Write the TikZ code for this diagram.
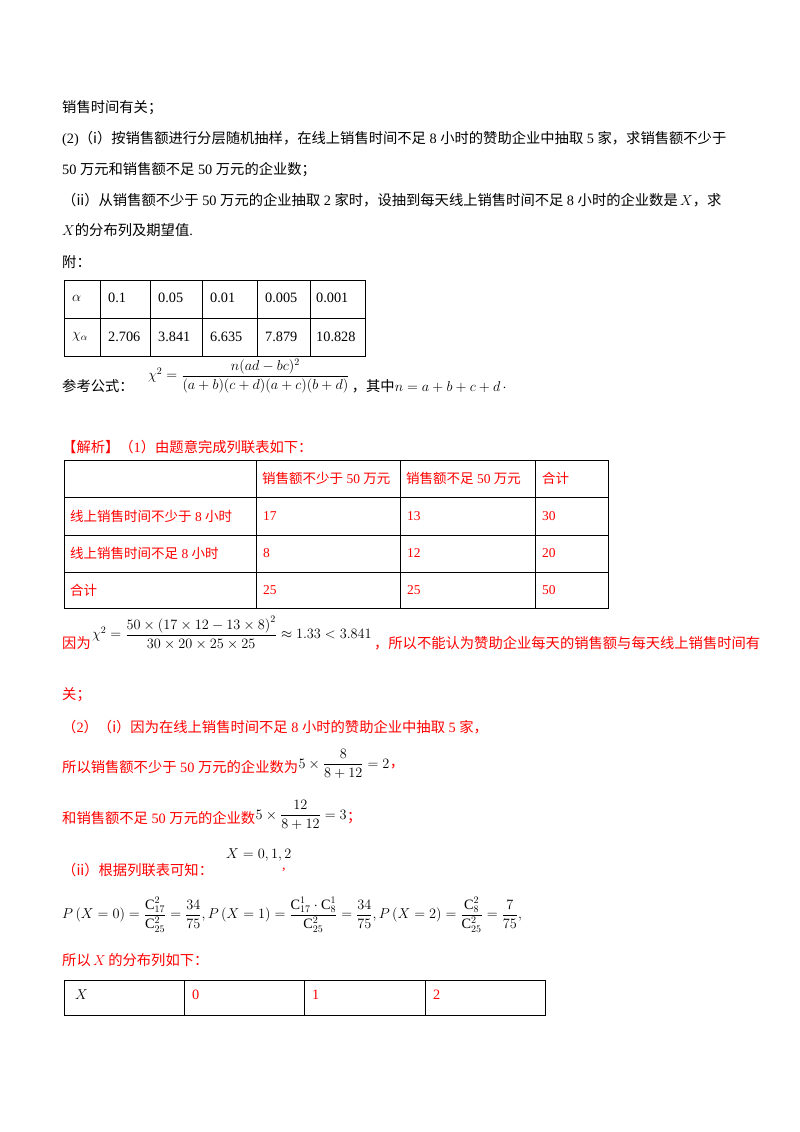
\RequirePackage{fix-cm}
\documentclass[tikz,border=0pt]{standalone}
\usepackage{amsmath}
\usepackage{fontspec}
\setmainfont{Liberation Serif}
\newfontfamily\cjk{Noto Sans CJK SC}
\newcommand{\zh}[1]{{\cjk #1}}
\begin{document}
\begin{tikzpicture}[x=1pt,y=-1pt,
  txt/.style={anchor=west,inner sep=0pt,font=\fontsize{14.3}{17}\selectfont},
  rtxt/.style={txt,text=red},
  ctxt/.style={rtxt,font=\fontsize{13.5}{16}\selectfont},
  grid/.style={line width=0.9pt}]
\useasboundingbox (0,0) rectangle (800,1132);
\fill[white] (0,0) rectangle (800,1132);
\node[txt] (l1) at (62,108) {\zh{销售时间有关；}};
\node[txt] (l2) at (62,139) {(2)\zh{（i）按销售额进行分层随机抽样，在线上销售时间不足} 8 \zh{小时的赞助企业中抽取} 5 \zh{家，求销售额不少于}};
\node[txt] (l3) at (62,170) {50 \zh{万元和销售额不足} 50 \zh{万元的企业数；}};
\node[txt] (l4) at (62,200) {\zh{（ii）从销售额不少于} 50 \zh{万元的企业抽取} 2 \zh{家时，设抽到每天线上销售时间不足} 8 \zh{小时的企业数是}$\,X$\zh{，求}};
\node[txt] (l5) at (62,230) {$X$\zh{的分布列及期望值}.};
\node[txt] (l6) at (62,262) {\zh{附：}};
% table 1
\draw[grid] (64,280) rectangle (365,356);
\draw[grid] (64,318) -- (365,318);
\foreach \x in {100,150,202,257,310} \draw[grid] (\x,280) -- (\x,356);
\node[txt] (a0) at (72,298) {$\alpha$};
\node[txt] (b0) at (72,337) {$\chi_{\alpha}$};
\foreach \x/\a/\b in {108/0.1/2.706,158/0.05/3.841,210/0.01/6.635,265/0.005/7.879,316/0.001/10.828}{
  \node[txt] at (\x,298) {\a};
  \node[txt] at (\x,337) {\b};}
\node[txt] (f1) at (62,386) {\zh{参考公式：}};
\node[txt] (f2) at (148,376) {$\chi^2=\dfrac{n(ad-bc)^2}{(a+b)(c+d)(a+c)(b+d)}$};
\node[txt] (f3) at (f2.east|-f1) [xshift=2pt] {\zh{，其中}$n=a+b+c+d$\,$\cdot$};
% solution
\node[rtxt] (s1) at (62,447) {\zh{【解析】（}1\zh{）由题意完成列联表如下：}};
\draw[grid] (64,460) rectangle (608,608);
\foreach \y in {497,535,572} \draw[grid] (64,\y) -- (608,\y);
\foreach \x in {256,400,535} \draw[grid] (\x,460) -- (\x,608);
\node[ctxt] at (262,478) {\zh{销售额不少于} 50 \zh{万元}};
\node[ctxt] at (406,478) {\zh{销售额不足} 50 \zh{万元}};
\node[ctxt] at (542,478) {\zh{合计}};
\node[ctxt] at (70,516) {\zh{线上销售时间不少于} 8 \zh{小时}};
\node[ctxt] at (70,553) {\zh{线上销售时间不足} 8 \zh{小时}};
\node[ctxt] at (70,590) {\zh{合计}};
\foreach \y/\a/\b/\c in {516/17/13/30,553/8/12/20,590/25/25/50}{
  \node[ctxt] at (263,\y) {\a};
  \node[ctxt] at (407,\y) {\b};
  \node[ctxt] at (542,\y) {\c};}
\node[rtxt] (s2) at (62,643) {\zh{因为}};
\node[txt] (s3) at (s2.east) [anchor=west,yshift=10pt,xshift=1pt] {$\chi^2=\dfrac{50\times\left(17\times12-13\times8\right)^2}{30\times20\times25\times25}\approx1.33<3.841$};
\node[rtxt] (s4) at (s3.east|-s2) [xshift=2pt] {\zh{，所以不能认为赞助企业每天的销售额与每天线上销售时间有}};
\node[rtxt] (s5) at (62,695) {\zh{关；}};
\node[rtxt] (s6) at (62,727) {\zh{（}2\zh{）（i）因为在线上销售时间不足} 8 \zh{小时的赞助企业中抽取} 5 \zh{家，}};
\node[rtxt] (s7) at (62,767) {\zh{所以销售额不少于} 50 \zh{万元的企业数为}};
\node[txt] (s7m) at (s7.east) [anchor=west,yshift=3pt] {$5\times\dfrac{8}{8+12}=2$};
\node[rtxt] (s7e) at (s7m.east|-s7) {\zh{，}};
\node[rtxt] (s8) at (62,818) {\zh{和销售额不足} 50 \zh{万元的企业数}};
\node[txt] (s8m) at (s8.east) [anchor=west,yshift=3pt] {$5\times\dfrac{12}{8+12}=3$};
\node[rtxt] (s8e) at (s8m.east|-s8) {\zh{；}};
\node[rtxt] (s9) at (62,870) {\zh{（ii）根据列联表可知：}};
\node[txt] (s9m) at (226,855) {$X=0,1,2$};
\node[rtxt] (s9e) at (282,870) {,};
\node[txt] (s10) at (62,915) {$P\left(X=0\right)=\dfrac{\mathrm{C}_{17}^2}{\mathrm{C}_{25}^2}=\dfrac{34}{75},P\left(X=1\right)=\dfrac{\mathrm{C}_{17}^1\cdot\mathrm{C}_{8}^1}{\mathrm{C}_{25}^2}=\dfrac{34}{75},P\left(X=2\right)=\dfrac{\mathrm{C}_{8}^2}{\mathrm{C}_{25}^2}=\dfrac{7}{75},$};
\node[rtxt] (s11) at (62,960) {\zh{所以}$\,X\,$\zh{的分布列如下：}};
\draw[grid] (64,980) rectangle (545,1015);
\foreach \x in {184,304,425} \draw[grid] (\x,980) -- (\x,1015);
\node[txt] at (75,995) {$X$};
\node[rtxt] at (192,995) {0};
\node[rtxt] at (312,995) {1};
\node[rtxt] at (433,995) {2};
\end{tikzpicture}
\end{document}
